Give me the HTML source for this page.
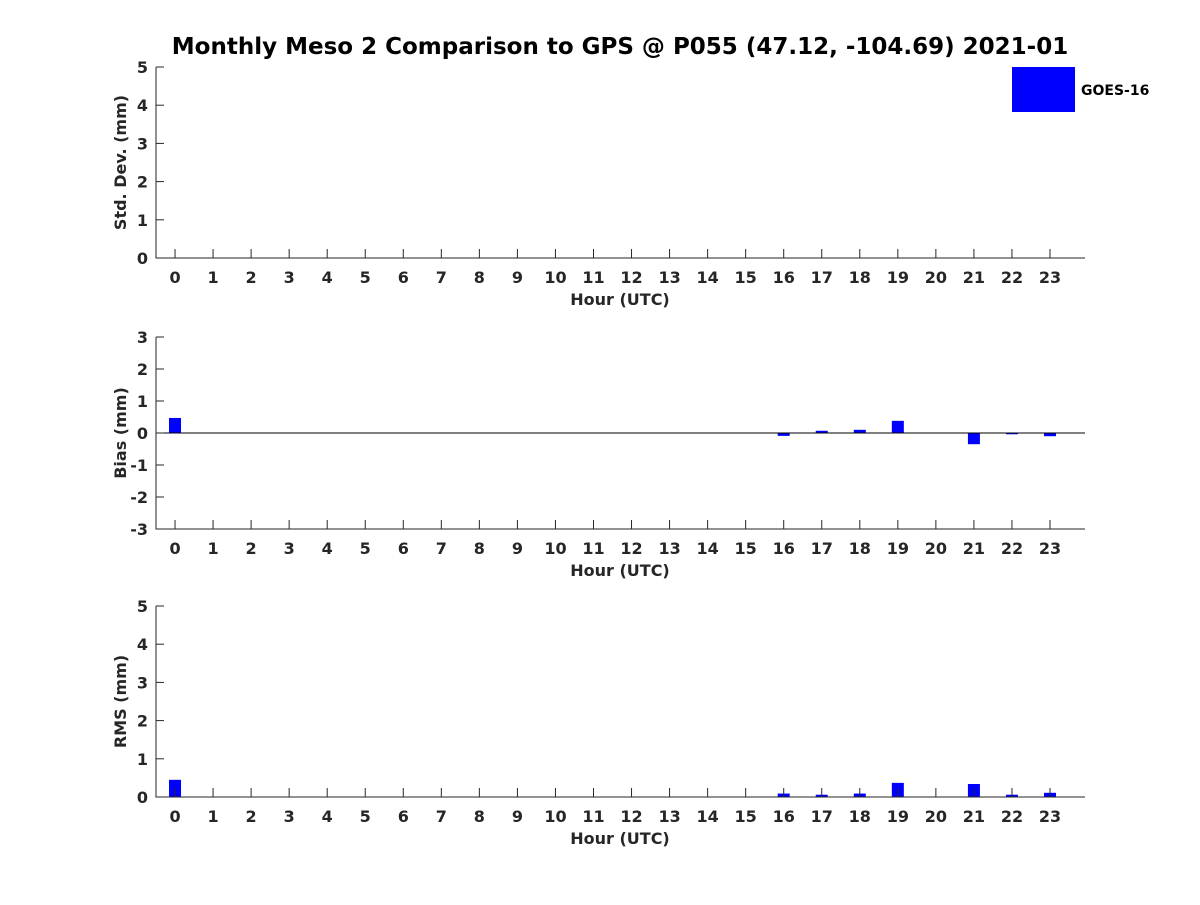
<!DOCTYPE html>
<html><head><meta charset="utf-8"><style>
body{margin:0;background:#fff;}
svg text{font-family:"DejaVu Sans","Liberation Sans",sans-serif;font-weight:bold;fill:#262626;}
</style></head><body>
<svg id="c" width="1200" height="900" xmlns="http://www.w3.org/2000/svg">
<text x="620" y="54" text-anchor="middle" font-size="23" style="fill:#000">Monthly Meso 2 Comparison to GPS @ P055 (47.12, -104.69) 2021-01</text>
<rect x="1012" y="67" width="63" height="45" fill="#0000ff"/>
<text x="1081" y="95" font-size="14" style="fill:#000">GOES-16</text>
</svg>
<script>
const hours = [0,1,2,3,4,5,6,7,8,9,10,11,12,13,14,15,16,17,18,19,20,21,22,23];
const stdValues = [];
const stdHours = [];
const biasHours = [0,16,17,18,19,21,22,23];
const biasValues = [0.47,-0.09,0.07,0.1,0.38,-0.35,-0.04,-0.1];
const rmsHours = [0,16,17,18,19,21,22,23];
const rmsValues = [0.45,0.09,0.06,0.09,0.37,0.34,0.06,0.11];
const stdTicks = [0,1,2,3,4,5];
const biasTicks = [-3,-2,-1,0,1,2,3];
const rmsTicks = [0,1,2,3,4,5];

const svg = document.getElementById('c');
const NS = 'http://www.w3.org/2000/svg';
const X0 = 156, X1 = 1085, XMIN = -0.5, XMAX = 23.92;
const xs = v => X0 + (v - XMIN) / (XMAX - XMIN) * (X1 - X0);
function mk(tag, attrs, parent) {
  const e = document.createElementNS(NS, tag);
  for (const k in attrs) e.setAttribute(k, attrs[k]);
  (parent || svg).appendChild(e);
  return e;
}
function panel(key, top, bottom, ymin, ymax, ticks, ylabel, bh, bv, zeroLine) {
  const g = mk('g', {});
  
  
  const ys = v => bottom - (v - ymin) / (ymax - ymin) * (bottom - top);
  // bars
  for (let i = 0; i < bh.length; i++) {
    const y0 = ys(0), y1 = ys(bv[i]);
    const r = mk('rect', {x: xs(bh[i]) - 6, y: Math.min(y0, y1), width: 12, height: Math.max(1, Math.abs(y1 - y0)), fill: '#0000ff'}, g);
    
    
  }
  // axes
  const ax = mk('path', {d: `M${X0} ${top}V${bottom}H${X1}`, stroke: '#262626', fill: 'none', 'stroke-width': 1}, g);
  
  
  if (zeroLine) {
    const z = mk('line', {x1: X0, x2: X1, y1: ys(0), y2: ys(0), stroke: '#000', 'stroke-width': 1}, g);
    
    
  }
  // y ticks
  for (const t of ticks) {
    const y = ys(t);
    mk('line', {x1: X0, x2: X0 + 8, y1: y, y2: y, stroke: '#262626'}, g);
    const tx = mk('text', {x: X0 - 8, y: y + 6, 'text-anchor': 'end', 'font-size': 16}, g);
    tx.textContent = t;
    
    
  }
  // x ticks
  for (const h of hours) {
    const x = xs(h);
    mk('line', {x1: x, x2: x, y1: bottom, y2: bottom - 9, stroke: '#262626'}, g);
    const tx = mk('text', {x: x, y: bottom + 25, 'text-anchor': 'middle', 'font-size': 16}, g);
    tx.textContent = h;
    
    
  }
  const xl = mk('text', {x: 620, y: bottom + 47, 'text-anchor': 'middle', 'font-size': 16}, g);
  xl.textContent = 'Hour (UTC)';
  
  
  const cy = (top + bottom) / 2;
  const yl = mk('text', {x: 0, y: 0, 'text-anchor': 'middle', 'font-size': 16, transform: `translate(126 ${cy}) rotate(-90)`}, g);
  yl.textContent = ylabel;
  
  
}
panel('std', 67, 258, 0, 5, stdTicks, 'Std. Dev. (mm)', stdHours, stdValues, false);
panel('bias', 337, 529, -3, 3, biasTicks, 'Bias (mm)', biasHours, biasValues, true);
panel('rms', 606, 797, 0, 5, rmsTicks, 'RMS (mm)', rmsHours, rmsValues, false);
</script>
</body></html>
